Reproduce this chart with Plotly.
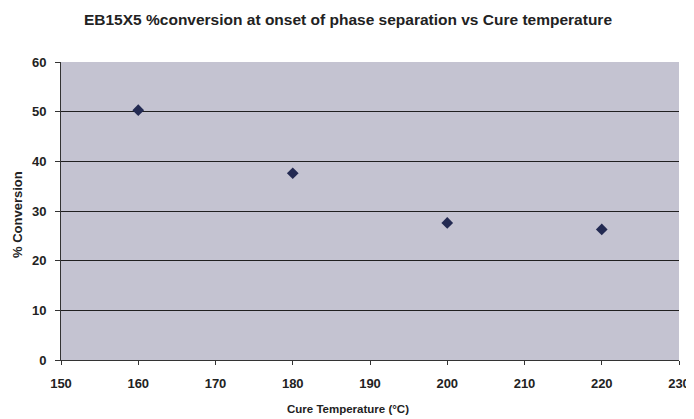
import plotly.graph_objects as go

cure_temp = [160, 180, 200, 220]
pct_conversion = [50.3, 37.6, 27.6, 26.3]
x_ticks = [150, 160, 170, 180, 190, 200, 210, 220, 230]
y_ticks = [0, 10, 20, 30, 40, 50, 60]

fnt = dict(family="Liberation Sans, Arial, sans-serif", color="#222222", weight="bold")

fig = go.Figure()
fig.add_trace(go.Scatter(
    x=cure_temp, y=pct_conversion, mode="markers",
    marker=dict(symbol="diamond", size=9, color="#232a52"),
    showlegend=False,
))

fig.update_layout(
    width=694, height=419,
    margin=dict(l=53, r=23, t=54, b=67, autoexpand=False),
    paper_bgcolor="white",
    plot_bgcolor="#c4c3d1",
    title=dict(text="EB15X5 %conversion at onset of phase separation vs Cure temperature",
               x=(348 - 8) / 694, xanchor="center", y=1 - 12 / 419, yanchor="middle",
               font=dict(size=15.5, **fnt)),
    annotations=[
        dict(text="Cure Temperature (°C)", xref="paper", yref="paper",
             x=(348 - 61) / 618, y=0, yshift=-49, xanchor="center", yanchor="middle",
             showarrow=False, font=dict(size=11.5, **fnt)),
        dict(text="% Conversion", xref="paper", yref="paper",
             x=0, xshift=-44, y=0.5, yshift=-4, xanchor="center", yanchor="middle",
             textangle=-90, showarrow=False, font=dict(size=13, **fnt)),
    ],
)
fig.update_xaxes(
    range=[150, 230], tickvals=x_ticks, ticktext=[str(v) for v in x_ticks],
    showgrid=False, zeroline=False, automargin=False,
    showline=True, linecolor="#333333", linewidth=1, mirror=False,
    ticks="outside", ticklen=4, tickcolor="#333333",
    ticklabelstandoff=7,
    tickfont=dict(size=13, **fnt),
)
fig.update_yaxes(
    range=[0, 60], tickvals=y_ticks, automargin=False,
    showgrid=True, gridcolor="#202020", gridwidth=1, zeroline=False,
    showline=True, linecolor="#333333", linewidth=1,
    ticks="outside", ticklen=5, tickcolor="#333333",
    ticklabelstandoff=6,
    tickfont=dict(size=13, **fnt),
)

fig.write_html("out.html")
